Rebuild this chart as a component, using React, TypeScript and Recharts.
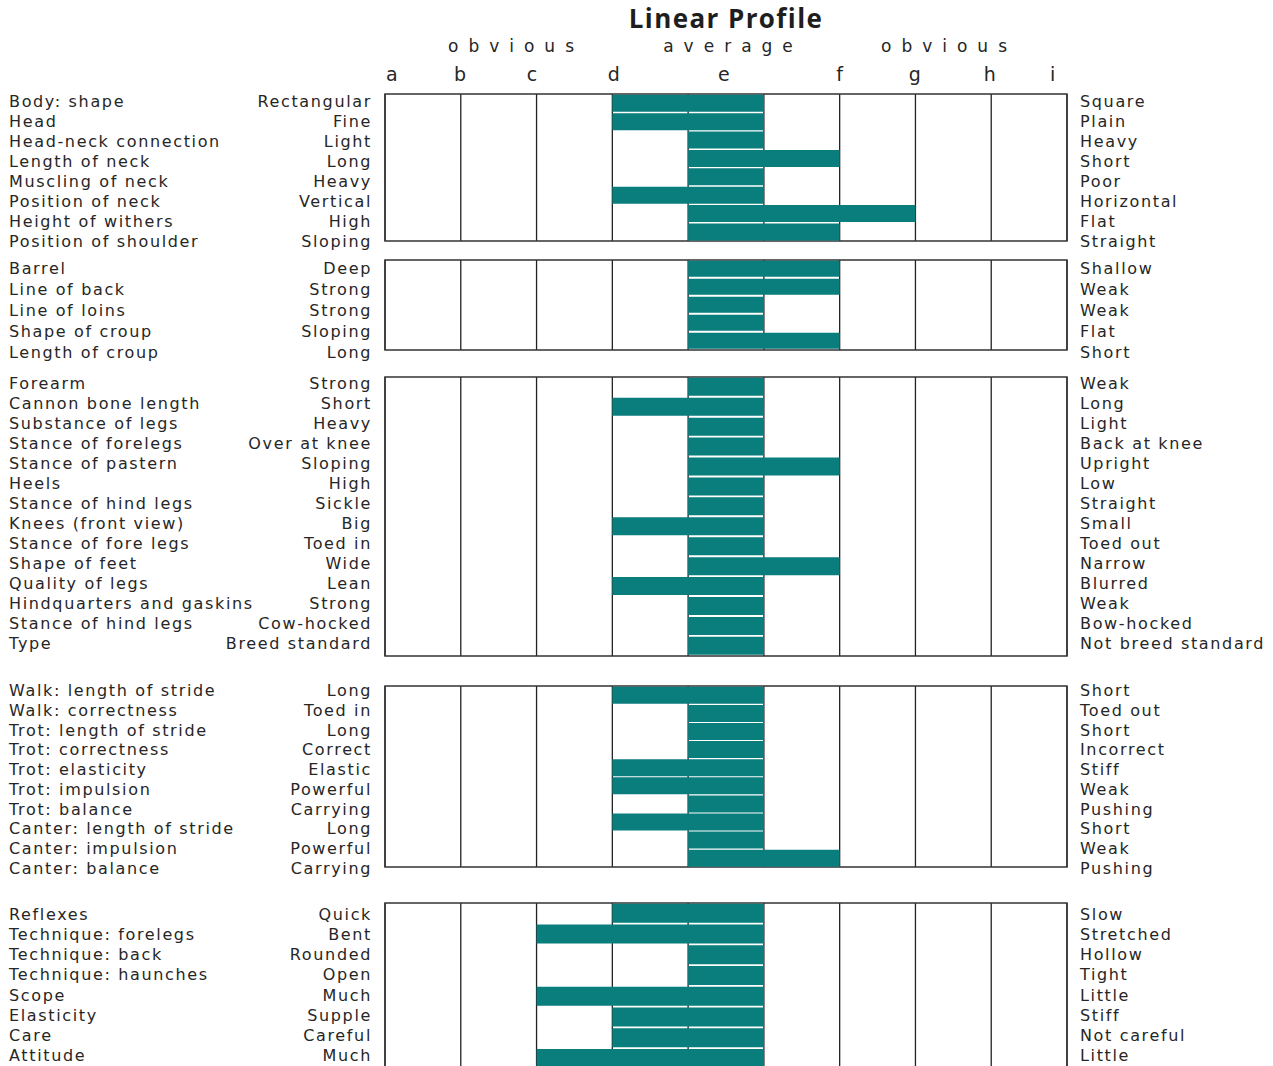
import React from 'react';
import { BarChart, Bar, XAxis, YAxis, CartesianGrid, ReferenceArea } from 'recharts';

// ---------- data ----------
const columnLetters = ['a', 'b', 'c', 'd', 'e', 'f', 'g', 'h', 'i'];
const letterTicks = [0.09, 0.99, 1.94, 3.02, 4.47, 6.0, 6.99, 7.98, 8.81];
const scaleHeadings = ['obvious', 'average', 'obvious'];
const chartTitle = 'Linear Profile';

const s1Traits = ['Body: shape', 'Head', 'Head-neck connection', 'Length of neck', 'Muscling of neck', 'Position of neck', 'Height of withers', 'Position of shoulder'];
const s1Left = ['Rectangular', 'Fine', 'Light', 'Long', 'Heavy', 'Vertical', 'High', 'Sloping'];
const s1Right = ['Square', 'Plain', 'Heavy', 'Short', 'Poor', 'Horizontal', 'Flat', 'Straight'];
const s1From = ['d', 'd', 'e', 'e', 'e', 'd', 'e', 'e'];
const s1To = ['e', 'e', 'e', 'f', 'e', 'e', 'g', 'f'];

const s2Traits = ['Barrel', 'Line of back', 'Line of loins', 'Shape of croup', 'Length of croup'];
const s2Left = ['Deep', 'Strong', 'Strong', 'Sloping', 'Long'];
const s2Right = ['Shallow', 'Weak', 'Weak', 'Flat', 'Short'];
const s2From = ['e', 'e', 'e', 'e', 'e'];
const s2To = ['f', 'f', 'e', 'e', 'f'];

const s3Traits = ['Forearm', 'Cannon bone length', 'Substance of legs', 'Stance of forelegs', 'Stance of pastern', 'Heels', 'Stance of hind legs', 'Knees (front view)', 'Stance of fore legs', 'Shape of feet', 'Quality of legs', 'Hindquarters and gaskins', 'Stance of hind legs', 'Type'];
const s3Left = ['Strong', 'Short', 'Heavy', 'Over at knee', 'Sloping', 'High', 'Sickle', 'Big', 'Toed in', 'Wide', 'Lean', 'Strong', 'Cow-hocked', 'Breed standard'];
const s3Right = ['Weak', 'Long', 'Light', 'Back at knee', 'Upright', 'Low', 'Straight', 'Small', 'Toed out', 'Narrow', 'Blurred', 'Weak', 'Bow-hocked', 'Not breed standard'];
const s3From = ['e', 'd', 'e', 'e', 'e', 'e', 'e', 'd', 'e', 'e', 'd', 'e', 'e', 'e'];
const s3To = ['e', 'e', 'e', 'e', 'f', 'e', 'e', 'e', 'e', 'f', 'e', 'e', 'e', 'e'];

const s4Traits = ['Walk: length of stride', 'Walk: correctness', 'Trot: length of stride', 'Trot: correctness', 'Trot: elasticity', 'Trot: impulsion', 'Trot: balance', 'Canter: length of stride', 'Canter: impulsion', 'Canter: balance'];
const s4Left = ['Long', 'Toed in', 'Long', 'Correct', 'Elastic', 'Powerful', 'Carrying', 'Long', 'Powerful', 'Carrying'];
const s4Right = ['Short', 'Toed out', 'Short', 'Incorrect', 'Stiff', 'Weak', 'Pushing', 'Short', 'Weak', 'Pushing'];
const s4From = ['d', 'e', 'e', 'e', 'd', 'd', 'e', 'd', 'e', 'e'];
const s4To = ['e', 'e', 'e', 'e', 'e', 'e', 'e', 'e', 'e', 'f'];

const s5Traits = ['Reflexes', 'Technique: forelegs', 'Technique: back', 'Technique: haunches', 'Scope', 'Elasticity', 'Care', 'Attitude'];
const s5Left = ['Quick', 'Bent', 'Rounded', 'Open', 'Much', 'Supple', 'Careful', 'Much'];
const s5Right = ['Slow', 'Stretched', 'Hollow', 'Tight', 'Little', 'Stiff', 'Not careful', 'Little'];
const s5From = ['d', 'c', 'e', 'e', 'c', 'd', 'd', 'c'];
const s5To = ['e', 'e', 'e', 'e', 'e', 'e', 'e', 'e'];

// ---------- layout / style ----------
const W = 1273;
const PLOT_LEFT = 385;
const PLOT_RIGHT = 1067;
const TEAL = '#0A7D7D';
const TEXT = '#262626';
const FONT = '"DejaVu Sans", sans-serif';
const LABEL_SIZE = 16;
const LABEL_SPACING = 1.65;
const LETTER_AXIS_H = 30;
const PAD = 16;

const layouts = [
  { top: 94, bottom: 241, padTop: -3, padBottom: -10 },
  { top: 260, bottom: 350, padTop: -2.5, padBottom: -12.5 },
  { top: 377, bottom: 656, padTop: -4, padBottom: 3 },
  { top: 686, bottom: 867, padTop: -5, padBottom: -11 },
  { top: 903, bottom: 1069, padTop: 1, padBottom: 3 },
];

const gridTicks = [...columnLetters.map((_, i) => i), columnLetters.length];

type SectionProps = {
  traits: string[];
  left: string[];
  right: string[];
  from: string[];
  to: string[];
  layout: { top: number; bottom: number; padTop: number; padBottom: number };
  showLetters?: boolean;
};

function Section({ traits, left, right, from, to, layout, showLetters }: SectionProps) {
  const data = traits.map((t, i) => ({
    trait: t,
    leftPole: left[i],
    rightPole: right[i],
    range: [columnLetters.indexOf(from[i]), columnLetters.indexOf(to[i]) + 1],
  }));
  const divTop = showLetters ? 0 : layout.top - PAD;
  const marginTop = showLetters ? layout.top - LETTER_AXIS_H : PAD;
  const height = layout.bottom + PAD - divTop;

  const LeftTick = (p: any) => {
    const idx = p.payload?.index ?? p.index;
    return (
      <g>
        <text x={9} y={p.y} dominantBaseline="central" textAnchor="start" fill={TEXT}
          fontFamily={FONT} fontSize={LABEL_SIZE} letterSpacing={LABEL_SPACING}>{traits[idx]}</text>
        <text x={372} y={p.y} dominantBaseline="central" textAnchor="end" fill={TEXT}
          fontFamily={FONT} fontSize={LABEL_SIZE} letterSpacing={LABEL_SPACING}>{left[idx]}</text>
      </g>
    );
  };
  const RightTick = (p: any) => {
    const idx = p.payload?.index ?? p.index;
    return (
      <text x={PLOT_RIGHT + 13} y={p.y} dominantBaseline="central" textAnchor="start" fill={TEXT}
        fontFamily={FONT} fontSize={LABEL_SIZE} letterSpacing={LABEL_SPACING}>{right[idx]}</text>
    );
  };
  const LetterTick = (p: any) => {
    const idx = p.payload?.index ?? p.index;
    return (
      <text x={p.x} y={layout.top - 20} dominantBaseline="central" textAnchor="middle" fill={TEXT}
        fontFamily={FONT} fontSize={19}>{columnLetters[idx]}</text>
    );
  };

  return (
    <div style={{ position: 'absolute', left: 0, top: divTop }}>
      <BarChart
        width={W}
        height={height}
        data={data}
        layout="vertical"
        margin={{ top: marginTop, bottom: PAD, left: 0, right: 0 }}
        barCategoryGap={0.8}
      >
        <CartesianGrid xAxisId="val" yAxisId="bars" horizontal={false} vertical stroke="#222" strokeWidth={1.3} />
        <XAxis xAxisId="val" type="number" domain={[0, 9]} ticks={gridTicks} hide />
        {showLetters && (
          <XAxis xAxisId="letters" orientation="top" type="number" domain={[0, 9]} allowDataOverflow ticks={letterTicks}
            height={LETTER_AXIS_H} axisLine={false} tickLine={false} tickSize={0} interval={0} tick={LetterTick} />
        )}
        <YAxis yAxisId="bars" type="category" hide />
        <YAxis yAxisId="labels" type="category" dataKey="trait" width={PLOT_LEFT} axisLine={false} tickLine={false}
          interval={0} padding={{ top: layout.padTop, bottom: layout.padBottom }} tick={LeftTick} />
        <YAxis yAxisId="right" orientation="right" type="category" dataKey="rightPole" width={W - PLOT_RIGHT}
          axisLine={false} tickLine={false} interval={0} padding={{ top: layout.padTop, bottom: layout.padBottom }} tick={RightTick} />
        <Bar xAxisId="val" yAxisId="bars" dataKey="range" fill={TEAL} isAnimationActive={false} />
        <ReferenceArea xAxisId="val" yAxisId="bars" x1={0} x2={9} fill="none" fillOpacity={0} stroke="#333" strokeWidth={1.5} ifOverflow="visible" />
      </BarChart>
    </div>
  );
}

export default function App() {
  const headingCenters = [511, 728, 944];
  return (
    <div style={{ position: 'absolute', left: 0, top: 0, width: W, height: 1066, background: '#fff', overflow: 'hidden', fontFamily: FONT, color: TEXT }}>
      <div style={{ position: 'absolute', left: 526, top: 5, width: 400, textAlign: 'center', fontSize: 26, fontWeight: 700, letterSpacing: 1.4, lineHeight: '26px', fontFamily: '"Open Sans", sans-serif', color: '#1e1e1e' }}>
        {chartTitle}
      </div>
      {scaleHeadings.map((h, i) => (
        <div key={i} style={{ position: 'absolute', left: headingCenters[i] - 100, top: 36, width: 200, textAlign: 'center', fontSize: 17, letterSpacing: 10, paddingLeft: 10, boxSizing: 'border-box', lineHeight: '20px' }}>
          {h}
        </div>
      ))}
      <Section traits={s1Traits} left={s1Left} right={s1Right} from={s1From} to={s1To} layout={layouts[0]} showLetters />
      <Section traits={s2Traits} left={s2Left} right={s2Right} from={s2From} to={s2To} layout={layouts[1]} />
      <Section traits={s3Traits} left={s3Left} right={s3Right} from={s3From} to={s3To} layout={layouts[2]} />
      <Section traits={s4Traits} left={s4Left} right={s4Right} from={s4From} to={s4To} layout={layouts[3]} />
      <Section traits={s5Traits} left={s5Left} right={s5Right} from={s5From} to={s5To} layout={layouts[4]} />
    </div>
  );
}
